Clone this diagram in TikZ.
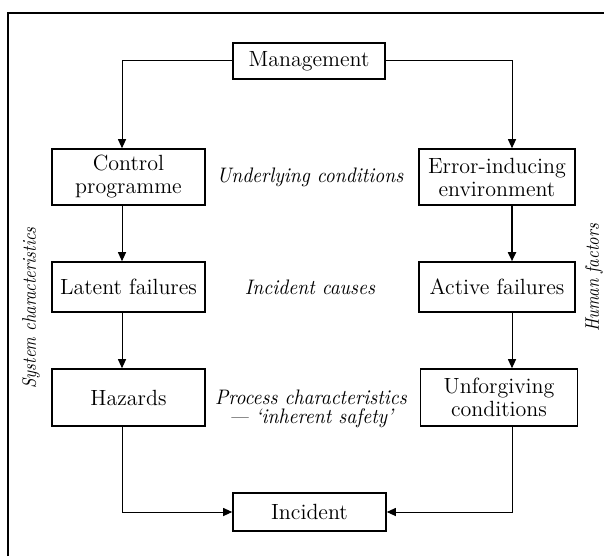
\documentclass[tikz,border=0pt]{standalone}
\usepackage{graphicx}
\usetikzlibrary{arrows.meta}

% slightly condensed italic for the labels
\newcommand\slimtext[1]{\scalebox{0.93}[1]{#1}}
\newcommand\sidetext[1]{\scalebox{0.85}[1]{#1}}

\begin{document}
\begin{tikzpicture}[x=0.5pt, y=-0.5pt,
  box/.style={draw, line width=0.8pt, inner sep=0pt, align=center,
    font=\fontsize{11}{11.5}\selectfont},
  note/.style={inner sep=0pt, align=center,
    font=\fontsize{10.5}{9.5}\selectfont\itshape},
  side/.style={inner sep=0pt, rotate=90,
    font=\fontsize{9.8}{10}\selectfont\itshape},
  link/.style={line width=0.5pt},
  arr/.style={link, -{Triangle[length=4.5pt,width=4pt]}},
]
\useasboundingbox (0,0) rectangle (604,556);

% outer frame (top and left edges)
\draw[line width=0.7pt] (8,556) -- (8,13) -- (604,13);

% boxes
\node[box, minimum width=76pt, minimum height=18pt] (mgmt) at (309,61) {Management};
\node[box, minimum width=76.5pt, minimum height=28pt] (ctrl) at (128.5,177) {Control\\programme};
\node[box, minimum width=78pt, minimum height=28pt] (err) at (497,177) {Error-inducing\\environment};
\node[box, minimum width=76.5pt, minimum height=25pt] (lat) at (128.5,287) {Latent failures};
\node[box, minimum width=78pt, minimum height=25pt] (act) at (497,287) {Active failures};
\node[box, minimum width=76.5pt, minimum height=28.5pt] (haz) at (128.5,397.5) {Hazards};
\node[box, minimum width=78.5pt, minimum height=28.5pt] (unf) at (499,397.5) {Unforgiving\\conditions};
\node[box, minimum width=76.5pt, minimum height=19pt] (inc) at (309.5,512) {Incident};

% vertical connector lines
\coordinate (lx) at (122,0);
\coordinate (rx) at (512,0);

\draw[arr] (mgmt.west) -| (lx |- ctrl.north);
\draw[arr] (mgmt.east) -| (rx |- err.north);
\draw[arr] (lx |- ctrl.south) -- (lx |- lat.north);
\draw[arr] (lx |- lat.south) -- (lx |- haz.north);
\draw[arr] (lx |- haz.south) |- (inc.west);
\draw[arr, line width=0.9pt] (rx |- err.south) -- (rx |- act.north);
\draw[arr] (rx |- act.south) -- (rx |- unf.north);
\draw[arr] (rx |- unf.south) |- (inc.east);

% row labels
\node[note] (ul) at (310,177) {\slimtext{Underlying conditions}};
\node[note] (ic) at (310,287) {\slimtext{Incident causes}};
\node[note] (pc) at (311,409) {\slimtext{Process characteristics}\\\slimtext{--- `inherent safety'}};

% side labels
\node[side] (sc) at (31,308) {\sidetext{System characteristics}};
\node[side] (hf) at (594,278) {\sidetext{Human factors}};
\end{tikzpicture}
\end{document}
